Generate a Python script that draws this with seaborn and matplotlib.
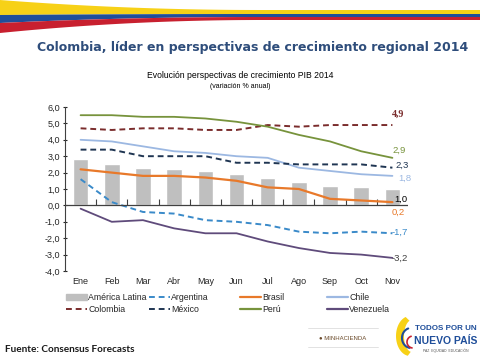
import matplotlib
matplotlib.use("Agg")
import matplotlib.pyplot as plt
import matplotlib.ticker as mticker
from matplotlib.lines import Line2D
from matplotlib.patches import Patch
import seaborn as sns
import numpy as np

months = ["Ene", "Feb", "Mar", "Abr", "May", "Jun", "Jul", "Ago", "Sep", "Oct", "Nov"]
america_latina = [2.8, 2.5, 2.3, 2.2, 2.1, 1.9, 1.7, 1.4, 1.2, 1.1, 1.0]
argentina = [1.6, 0.2, -0.4, -0.5, -0.9, -1.0, -1.2, -1.6, -1.7, -1.6, -1.7]
brasil = [2.2, 2.0, 1.8, 1.8, 1.7, 1.5, 1.1, 1.0, 0.4, 0.3, 0.2]
chile = [4.0, 3.9, 3.6, 3.3, 3.2, 3.0, 2.9, 2.3, 2.1, 1.9, 1.8]
colombia = [4.7, 4.6, 4.7, 4.7, 4.6, 4.6, 4.9, 4.8, 4.9, 4.9, 4.9]
mexico = [3.4, 3.4, 3.0, 3.0, 3.0, 2.6, 2.6, 2.5, 2.5, 2.5, 2.3]
peru = [5.5, 5.5, 5.4, 5.4, 5.3, 5.1, 4.8, 4.3, 3.9, 3.3, 2.9]
venezuela = [-0.2, -1.0, -0.9, -1.4, -1.7, -1.7, -2.2, -2.6, -2.9, -3.0, -3.2]

c_gray = "#bfbfbf"
c_arg = "#3a8ac9"
c_bra = "#e8792a"
c_chi = "#9cb8e2"
c_col = "#7a2c2c"
c_mex = "#1f3552"
c_per = "#77933c"
c_ven = "#5f4b7b"
dash = (0, (3, 2))

sns.set_style("white")
plt.rcParams["font.family"] = ["Liberation Sans", "DejaVu Sans"]

fig = plt.figure(figsize=(4.8, 3.6), dpi=100)

# decoration layer in pixel coordinates
deco = fig.add_axes([0, 0, 1, 1])
deco.set_xlim(0, 480)
deco.set_ylim(360, 0)
deco.axis("off")
xs = np.linspace(0, 480, 300)
t = np.clip(xs / 260.0, 0, 1)
t = 1 - (1 - t) ** 2
y_top = 10 * t
y_yel = 15 - 1 * t
y_blu = 23 - 6 * t
y_red = 33 - 13 * t
deco.fill_between(xs, y_top, y_yel, color="#f7d117", lw=0)
deco.fill_between(xs, y_yel, y_blu, color="#1f4e9a", lw=0)
deco.fill_between(xs, y_blu, y_red, color="#c8202f", lw=0)

fig.text(253 / 480, 1 - 48 / 360, "Colombia, líder en perspectivas de crecimiento regional 2014",
         ha="center", va="center", fontsize=9.0, fontweight="bold", color="#2e4d7b",
         family="DejaVu Sans")
fig.text(0.5, 1 - 75 / 360, "Evolución perspectivas de crecimiento PIB 2014",
         ha="center", va="center", fontsize=6.2, color="black")
fig.text(0.5, 1 - 86 / 360, "(variación % anual)",
         ha="center", va="center", fontsize=5, color="black")

ax = fig.add_axes([65 / 480, 1 - 271 / 360, 343 / 480, 164 / 360])
x = np.arange(len(months))
sns.barplot(x=x, y=america_latina, color=c_gray, width=0.5, ax=ax, saturation=1,
            native_scale=True)

series = [
    (argentina, c_arg, dash, 1.4),
    (brasil, c_bra, "-", 1.6),
    (chile, c_chi, "-", 1.3),
    (colombia, c_col, dash, 1.4),
    (mexico, c_mex, dash, 1.4),
    (peru, c_per, "-", 1.3),
    (venezuela, c_ven, "-", 1.3),
]
for vals, col, ls, lw in series:
    sns.lineplot(x=x, y=vals, color=col, linestyle=ls, linewidth=lw, ax=ax)

ax.set_xlim(-0.5, 10.5)
ax.set_ylim(-4, 6)
ax.set_yticks(np.arange(-4, 7, 1))
ax.yaxis.set_major_formatter(mticker.FuncFormatter(lambda v, p: f"{v:.1f}".replace(".", ",")))
ax.set_xticks(x)
ax.set_xticklabels(months)
ax.tick_params(axis="x", length=0, labelsize=6.5, pad=4)
ax.tick_params(axis="y", left=True, length=3, direction="inout", width=0.8,
               labelsize=6.5, pad=2)
for s in ["top", "right", "bottom"]:
    ax.spines[s].set_visible(False)
ax.spines["left"].set_color("#404040")
ax.axhline(0, color="#404040", lw=0.9)
zero = ax.secondary_xaxis(0.4)
zero.set_xticks(np.arange(0.5, 10.5, 1))
zero.set_xticklabels([])
zero.tick_params(length=4, direction="in", width=0.8, color="#404040")
zero.spines["bottom"].set_visible(False)
ax.set_xlabel("")

# end-of-series labels
ax.text(9.97, 5.55, "4,9", color=c_col, fontsize=7.2, fontweight="bold",
        family="Liberation Serif", va="center")
ax.text(10.0, 3.35, "2,9", color=c_per, fontsize=6.8, va="center")
ax.text(10.1, 2.44, "2,3", color=c_mex, fontsize=6.8, va="center")
ax.text(10.2, 1.65, "1,8", color=c_chi, fontsize=6.8, va="center")
ax.text(10.05, 0.37, "1,0", color="black", fontsize=6.8, va="center")
ax.text(9.97, -0.43, "0,2", color=c_bra, fontsize=6.8, va="center")
ax.text(9.97, -1.65, "-1,7", color=c_arg, fontsize=6.8, va="center")
ax.text(9.97, -3.2, "-3,2", color="#404040", fontsize=6.8, va="center")

legend_cols = [
    [Patch(color=c_gray, label="América Latina"),
     Line2D([], [], color=c_col, ls=dash, lw=1.4, label="Colombia")],
    [Line2D([], [], color=c_arg, ls=dash, lw=1.4, label="Argentina"),
     Line2D([], [], color=c_mex, ls=dash, lw=1.4, label="México")],
    [Line2D([], [], color=c_bra, lw=1.6, label="Brasil"),
     Line2D([], [], color=c_per, lw=1.6, label="Perú")],
    [Line2D([], [], color=c_chi, lw=1.6, label="Chile"),
     Line2D([], [], color=c_ven, lw=1.6, label="Venezuela")],
]
legend_x = [60, 143, 234, 321]
for hs, lx in zip(legend_cols, legend_x):
    fig.legend(handles=hs, loc="upper left", bbox_to_anchor=(lx / 480, 1 - 287 / 360),
               frameon=False, fontsize=6.3, handlelength=2.4, handleheight=0.6,
               handletextpad=0.15, labelspacing=0.35, borderpad=0.2)

fig.text(5 / 480, 1 - 349 / 360, "Fuente: Consensus Forecasts", fontsize=7.2,
         fontweight="bold", color="#1a1a1a", va="center", family="Lato")

# footer logos (text approximations)
deco.plot([308, 378], [328, 328], color="#dddddd", lw=0.6)
deco.plot([308, 378], [347, 347], color="#dddddd", lw=0.6)
deco.text(343, 338, "\u25CF MINHACIENDA", fontsize=4.3, color="#6b4a2a", ha="center",
          va="center")
deco.text(446, 329, "TODOS POR UN", fontsize=5.8, fontweight="bold", color="#1f4e9a",
          ha="center", va="center")
deco.text(446, 341, "NUEVO PAÍS", fontsize=7.5, fontweight="bold", color="#1f4e9a",
          ha="center", va="center")
deco.text(446, 351, "PAZ  EQUIDAD  EDUCACIÓN", fontsize=2.4, color="#555555",
          ha="center", va="center")
th = np.linspace(0.6 * np.pi, 1.45 * np.pi, 40)
deco.fill(np.r_[410 + 14 * np.cos(th), 412 + 8 * np.cos(th[::-1])],
          np.r_[336 - 20 * np.sin(th), 336 - 16 * np.sin(th[::-1])], color="#f7d117", lw=0)
deco.plot(411 + 9 * np.cos(th), 338 - 10 * np.sin(th), color="#1f4e9a", lw=1.5)
deco.plot(413 + 6 * np.cos(th), 342 - 6 * np.sin(th), color="#c8202f", lw=1.2)

fig.savefig("out.png", dpi=100)
